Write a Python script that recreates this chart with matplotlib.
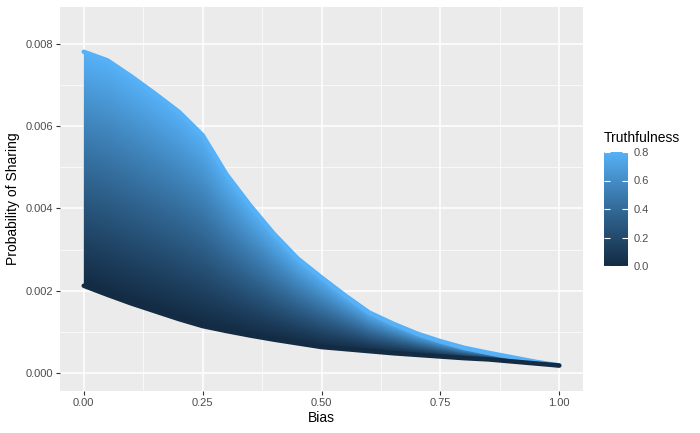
import matplotlib
matplotlib.use("Agg")
import matplotlib.pyplot as plt
import numpy as np
from matplotlib.colors import ListedColormap, Normalize

plt.rcParams['font.family'] = ['Liberation Sans', 'DejaVu Sans']

# values
bias = [0.00, 0.05, 0.10, 0.15, 0.20, 0.25, 0.30, 0.35, 0.40, 0.45, 0.50,
        0.55, 0.60, 0.65, 0.70, 0.75, 0.80, 0.85, 0.90, 0.95, 1.00]
# probability of sharing at truthfulness = 0.8 (top edge)
share_high = [0.00781, 0.00760, 0.00721, 0.00679, 0.00635, 0.00578, 0.00483,
              0.00407, 0.00338, 0.00278, 0.00232, 0.00188, 0.00147, 0.00120,
              0.00096, 0.00077, 0.00061, 0.00049, 0.00038, 0.00027, 0.00018]
# probability of sharing at truthfulness = 0.0 (bottom edge)
share_low = [0.00212, 0.00190, 0.00169, 0.00150, 0.00131, 0.00114, 0.00102,
             0.00091, 0.00081, 0.00072, 0.00063, 0.00058, 0.00053, 0.00048,
             0.00044, 0.00040, 0.00036, 0.00033, 0.00028, 0.00023, 0.00018]
truth_min, truth_max = 0.0, 0.8

x_ticks = [0.00, 0.25, 0.50, 0.75, 1.00]
x_labels = ["0.00", "0.25", "0.50", "0.75", "1.00"]
y_ticks = [0.000, 0.002, 0.004, 0.006, 0.008]
y_labels = ["0.000", "0.002", "0.004", "0.006", "0.008"]
cbar_ticks = [0.0, 0.2, 0.4, 0.6, 0.8]


# ggplot2 default gradient (#132B43 -> #56B1F7), interpolated in Lab space
def srgb_to_lab(rgb):
    c = np.asarray(rgb, dtype=float)
    lin = np.where(c <= 0.04045, c / 12.92, ((c + 0.055) / 1.055) ** 2.4)
    m = np.array([[0.4124, 0.3576, 0.1805],
                  [0.2126, 0.7152, 0.0722],
                  [0.0193, 0.1192, 0.9505]])
    xyz = m @ lin / np.array([0.95047, 1.0, 1.08883])
    f = np.where(xyz > 0.008856, np.cbrt(xyz), 7.787 * xyz + 16 / 116)
    return np.array([116 * f[1] - 16, 500 * (f[0] - f[1]), 200 * (f[1] - f[2])])


def lab_to_srgb(lab):
    L, a, b = lab
    fy = (L + 16) / 116
    f = np.array([fy + a / 500, fy, fy - b / 200])
    xyz = np.where(f ** 3 > 0.008856, f ** 3, (f - 16 / 116) / 7.787)
    xyz = xyz * np.array([0.95047, 1.0, 1.08883])
    m = np.array([[3.2406, -1.5372, -0.4986],
                  [-0.9689, 1.8758, 0.0415],
                  [0.0557, -0.2040, 1.0570]])
    lin = m @ xyz
    c = np.where(lin <= 0.0031308, 12.92 * lin,
                 1.055 * np.clip(lin, 0, None) ** (1 / 2.4) - 0.055)
    return np.clip(c, 0, 1)


lo = srgb_to_lab(matplotlib.colors.to_rgb("#132B43"))
hi = srgb_to_lab(matplotlib.colors.to_rgb("#56B1F7"))
cmap = ListedColormap([lab_to_srgb(lo + (hi - lo) * t) for t in np.linspace(0, 1, 256)])
norm = Normalize(vmin=truth_min, vmax=truth_max)

fig = plt.figure(figsize=(7, 4.33), dpi=100)
ax = fig.add_axes([60 / 700, 42 / 433, 523 / 700, 384 / 433])
ax.set_facecolor("#EBEBEB")
xlim = (-0.05, 1.05)
ylim = (-0.00044, 0.0089)

# region between the two truthfulness levels
band = ax.fill_between(bias, share_low, share_high, color="none", lw=0)

# colour shading inside the band: truthfulness rises from bottom to top edge
gx = np.linspace(xlim[0], xlim[1], 900)
gy = np.linspace(ylim[0], ylim[1], 700)
low_g = np.interp(gx, bias, share_low)
high_g = np.interp(gx, bias, share_high)
span = np.where(high_g - low_g > 1e-9, high_g - low_g, 1e-9)
frac = np.clip((gy[:, None] - low_g[None, :]) / span[None, :], 0, 1)
img = ax.imshow(truth_min + frac * (truth_max - truth_min), cmap=cmap, norm=norm,
                extent=[xlim[0], xlim[1], ylim[0], ylim[1]], origin="lower",
                aspect="auto", interpolation="bilinear", zorder=3)
clip = band.get_paths()[0]
img.set_clip_path(clip, transform=ax.transData)

# edges drawn as thick round lines, like the point markers
ax.plot(bias, share_high, color=cmap(norm(truth_max)), lw=3.3,
        solid_capstyle="round", solid_joinstyle="round", zorder=4)
ax.plot(bias, share_low, color=cmap(norm(truth_min)), lw=3.3,
        solid_capstyle="round", solid_joinstyle="round", zorder=4)

ax.set_xlim(*xlim)
ax.set_ylim(*ylim)
ax.set_xticks(x_ticks)
ax.set_xticklabels(x_labels)
ax.set_yticks(y_ticks)
ax.set_yticklabels(y_labels)
ax.set_xticks([0.125, 0.375, 0.625, 0.875], minor=True)
ax.set_yticks([0.001, 0.003, 0.005, 0.007], minor=True)
ax.grid(which="major", color="white", lw=1.1, zorder=1)
ax.grid(which="minor", color="white", lw=0.5, zorder=1)
ax.set_axisbelow(True)
for s in ax.spines.values():
    s.set_visible(False)
ax.tick_params(which="major", length=3, width=0.8, color="#333333",
               labelsize=8, labelcolor="#4D4D4D", pad=2)
ax.tick_params(which="minor", length=0)
ax.set_xlabel("Bias", fontsize=10, labelpad=2)
ax.set_ylabel("Probability of Sharing", fontsize=10, labelpad=4)

# colour bar legend
cax = fig.add_axes([604 / 700, 167 / 433, 24 / 700, 114 / 433])
sm = plt.cm.ScalarMappable(cmap=cmap, norm=norm)
cb = fig.colorbar(sm, cax=cax, ticks=cbar_ticks)
cb.outline.set_visible(False)
cax.set_yticklabels([f"{t:.1f}" for t in cbar_ticks])
cax.tick_params(length=4, width=0.8, color="white", direction="in",
                labelsize=8, labelcolor="#4D4D4D", pad=4, left=True, right=True)
fig.text(604 / 700, 1 - 138 / 433, "Truthfulness", fontsize=10, va="center", ha="left")

fig.savefig("out.png", dpi=100)
